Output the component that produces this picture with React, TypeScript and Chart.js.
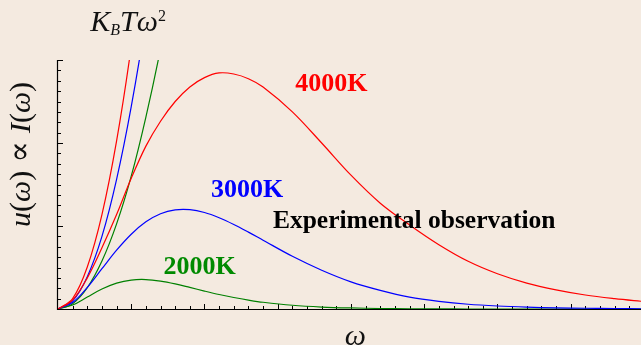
import React, { useEffect, useRef } from "react";
import { Chart, registerables } from "chart.js";

Chart.register(...registerables);

// ---- data ----
// x in units of one small x-tick, y in units of one small y-tick
const xPlanck = [0, 1, 2, 3, 4, 5, 6, 7, 8, 9, 10, 11, 12, 13, 14, 16, 18, 20, 22, 24, 26, 28, 30, 32, 34, 36, 38, 40];
const u4000 = [0, 0.87, 3.0, 5.9, 9.1, 12.6, 15.7, 18.1, 20.0, 21.4, 22.3, 22.75, 22.65, 22.2, 21.4, 19.0, 16.0, 12.9, 10.2, 8.1, 6.2, 4.6, 3.4, 2.5, 1.85, 1.35, 1.0, 0.72];
const u3000 = [0, 0.62, 2.08, 3.88, 5.67, 7.21, 8.4, 9.18, 9.55, 9.57, 9.3, 8.8, 8.15, 7.41, 6.63, 5.08, 3.74, 2.62, 1.8, 1.15, 0.74, 0.46, 0.29, 0.18, 0.11, 0.07, 0.04, 0.02];
const u2000 = [0, 0.38, 1.15, 1.92, 2.49, 2.79, 2.84, 2.69, 2.42, 2.08, 1.73, 1.4, 1.11, 0.86, 0.65, 0.36, 0.19, 0.1, 0.05, 0.02, 0.01, 0, 0, 0, 0, 0, 0, 0];

const xRJ = [0, 1, 2, 3, 4, 5, 6, 7, 8];
const rj4000 = [0, 1.01, 4.05, 9.1, 16.2, 25.3, 36.4, 49.6, 64.8];
const rj3000 = [0, 0.78, 3.12, 7.0, 12.5, 19.5, 28.0, 38.2, 49.9];
const rj2000 = [0, 0.51, 2.05, 4.62, 8.2, 12.8, 18.5, 25.1, 32.8];

const curveColors = ["#ff0000", "#0000ff", "#008000"];
const tempLabels = ["4000K", "3000K", "2000K"];
const tempLabelColors = ["#ff0000", "#0000ff", "#008a00"];
const tempLabelX = [16.2, 10.45, 7.2];
const tempLabelY = [21.0, 10.8, 3.4];
const noteText = "Experimental observation";
const noteX = 14.67;
const noteY = 7.8;
const titleX = 2.2;
const titleY = 26.75;
const xLabelX = 20.3;
const yLabelY = 14.9;

const X_MAX = 39.8;
const Y_MAX = 24;
const X_MAJOR = 5;
const Y_MAJOR = 8;

const BG = "#f4eae0";
const SERIF = "'Liberation Serif', 'DejaVu Serif', serif";

const toPts = (xs: number[], ys: number[]) => xs.map((x, i) => ({ x, y: ys[i] }));

type Run = { t: string; font: string; dy?: number };

function drawRuns(ctx: CanvasRenderingContext2D, runs: Run[], x: number, y: number) {
  let cx = x;
  for (const r of runs) {
    ctx.font = r.font;
    ctx.fillText(r.t, cx, y + (r.dy || 0));
    cx += ctx.measureText(r.t).width;
  }
}
function runsWidth(ctx: CanvasRenderingContext2D, runs: Run[]) {
  let w = 0;
  for (const r of runs) {
    ctx.font = r.font;
    w += ctx.measureText(r.t).width;
  }
  return w;
}

const decor = {
  id: "decor",
  beforeDatasetsDraw(chart: any) {
    const { ctx, chartArea, scales } = chart;
    const { left, right, top, bottom } = chartArea;
    const xs = scales.x;
    const ys = scales.y;
    ctx.save();
    ctx.strokeStyle = "#000";
    ctx.lineWidth = 1.2;
    ctx.beginPath();
    ctx.moveTo(left - 0.5, top);
    ctx.lineTo(left - 0.5, bottom + 0.5);
    ctx.lineTo(right, bottom + 0.5);
    ctx.stroke();
    ctx.lineWidth = 1;
    ctx.beginPath();
    for (let v = 1; v <= xs.max; v++) {
      const px = Math.round(xs.getPixelForValue(v)) + 0.5;
      const len = v % X_MAJOR === 0 ? 5 : 3;
      ctx.moveTo(px, bottom);
      ctx.lineTo(px, bottom - len);
    }
    for (let v = 1; v <= ys.max; v++) {
      const py = Math.round(ys.getPixelForValue(v)) + 0.5;
      const len = v % Y_MAJOR === 0 ? 5 : 3;
      ctx.moveTo(left, py);
      ctx.lineTo(left + len, py);
    }
    ctx.stroke();
    ctx.restore();
  },
  afterDraw(chart: any) {
    const { ctx, chartArea, scales } = chart;
    const xs = scales.x;
    const ys = scales.y;
    ctx.save();
    ctx.textBaseline = "alphabetic";
    ctx.textAlign = "left";
    // temperature labels
    ctx.font = `bold 26px ${SERIF}`;
    tempLabels.forEach((t, i) => {
      ctx.fillStyle = tempLabelColors[i];
      ctx.fillText(t, xs.getPixelForValue(tempLabelX[i]), ys.getPixelForValue(tempLabelY[i]));
    });
    ctx.fillStyle = "#000";
    ctx.font = `bold 25.5px ${SERIF}`;
    ctx.fillText(noteText, xs.getPixelForValue(noteX), ys.getPixelForValue(noteY));

    // title K_B T ω^2
    ctx.fillStyle = "#111";
    const it30 = `italic 30px ${SERIF}`;
    drawRuns(
      ctx,
      [
        { t: "K", font: it30 },
        { t: "B", font: `italic 16px ${SERIF}`, dy: 3.5 },
        { t: "T", font: it30 },
        { t: "ω", font: it30 },
        { t: "2", font: `16px ${SERIF}`, dy: -10 },
      ],
      xs.getPixelForValue(titleX),
      ys.getPixelForValue(titleY)
    );

    // x axis label
    ctx.font = it30;
    ctx.textAlign = "center";
    ctx.fillText("ω", xs.getPixelForValue(xLabelX), chart.height);
    ctx.textAlign = "left";

    // y axis label (rotated)
    const up = `30px ${SERIF}`;
    const yRuns: Run[] = [
      { t: "u", font: it30 },
      { t: "(", font: up },
      { t: "ω", font: it30 },
      { t: ")", font: up },
      { t: " ∝ ", font: `32px ${SERIF}` },
      { t: "I", font: it30 },
      { t: "(", font: up },
      { t: "ω", font: it30 },
      { t: ")", font: up },
    ];
    const w = runsWidth(ctx, yRuns);
    ctx.translate(chartArea.left - 28, ys.getPixelForValue(yLabelY));
    ctx.rotate(-Math.PI / 2);
    drawRuns(ctx, yRuns, -w / 2, 0);
    ctx.restore();
  },
};

export default function App() {
  const ref = useRef<HTMLCanvasElement>(null);
  useEffect(() => {
    document.body.style.margin = "0";
    document.body.style.background = BG;
    const lineDs = (label: string, xs: number[], ys: number[], color: string) => ({
      label,
      data: toPts(xs, ys),
      borderColor: color,
      backgroundColor: color,
      borderWidth: 1.2,
      pointRadius: 0,
      fill: false,
      tension: 0.35,
    });
    const chart = new Chart(ref.current as HTMLCanvasElement, {
      type: "line",
      data: {
        datasets: [
          lineDs("4000K", xPlanck, u4000, curveColors[0]),
          lineDs("3000K", xPlanck, u3000, curveColors[1]),
          lineDs("2000K", xPlanck, u2000, curveColors[2]),
          lineDs("RJ 4000K", xRJ, rj4000, curveColors[0]),
          lineDs("RJ 3000K", xRJ, rj3000, curveColors[1]),
          lineDs("RJ 2000K", xRJ, rj2000, curveColors[2]),
        ],
      },
      options: {
        responsive: false,
        animation: false,
        layout: { padding: { left: 58, top: 60, right: 0, bottom: 36 } },
        plugins: { legend: { display: false }, tooltip: { enabled: false } },
        scales: {
          x: { type: "linear", min: 0, max: X_MAX, display: false },
          y: { type: "linear", min: 0, max: Y_MAX, display: false },
        },
      },
      plugins: [decor],
    });
    return () => chart.destroy();
  }, []);
  return (
    <div style={{ width: 641, height: 345, background: BG }}>
      <canvas ref={ref} width={641} height={345} />
    </div>
  );
}
